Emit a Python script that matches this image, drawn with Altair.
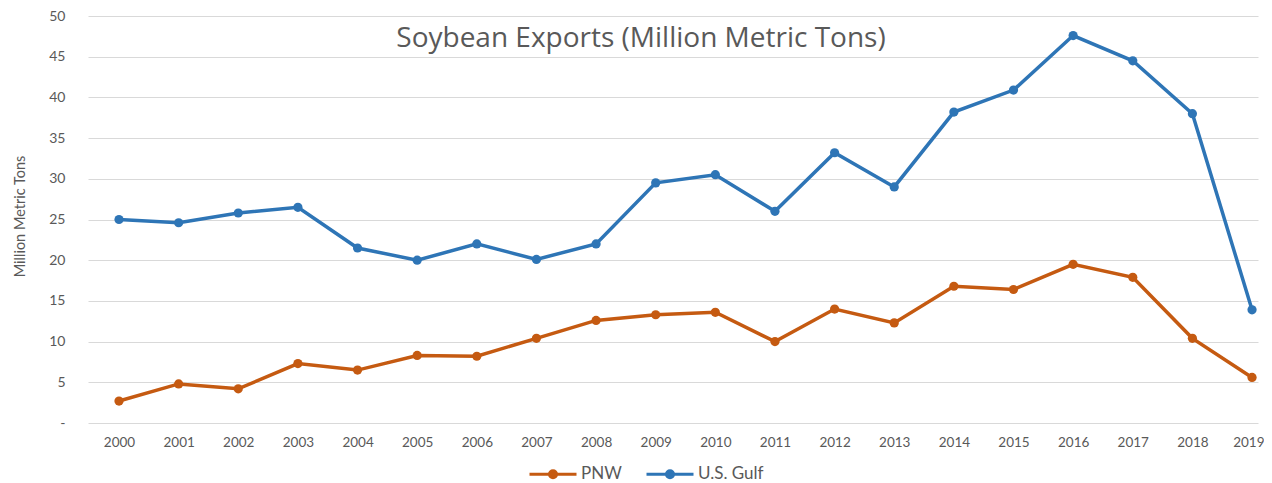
import altair as alt
import pandas as pd

years = list(range(2000, 2020))
gulf = [25.0, 24.6, 25.8, 26.5, 21.5, 20.0, 22.0, 20.1, 22.0, 29.5,
        30.5, 26.0, 33.2, 29.0, 38.2, 40.9, 47.6, 44.5, 38.0, 13.9]
pnw = [2.7, 4.8, 4.2, 7.3, 6.5, 8.3, 8.2, 10.4, 12.6, 13.3,
       13.6, 10.0, 14.0, 12.3, 16.8, 16.4, 19.5, 17.9, 10.4, 5.6]
series = ["PNW", "U.S. Gulf"]
colors = ["#C55A11", "#2E75B6"]
title_text = "Soybean Exports (Million Metric Tons)"
y_title = "Million Metric Tons"

rows = []
for y, v in zip(years, pnw):
    rows.append({"Year": y, "Series": "PNW", "Value": v})
for y, v in zip(years, gulf):
    rows.append({"Year": y, "Series": "U.S. Gulf", "Value": v})
df = pd.DataFrame(rows)

FONT = "Lato"
GRAY = "#595959"

color = alt.Color(
    "Series:N",
    scale=alt.Scale(domain=series, range=colors),
    legend=alt.Legend(
        title=None,
        orient="none",
        legendX=440,
        legendY=433,
        direction="horizontal",
        symbolType="M-1,0L1,0M-0.15,0a0.15,0.15 0 1,0 0.3,0a0.15,0.15 0 1,0 -0.3,0",
        symbolSize=2209,
        symbolStrokeWidth=3,
        labelFont=FONT,
        labelFontSize=17,
        labelColor=GRAY,
        columnPadding=18,
        labelOffset=3,
    ),
)

x = alt.X(
    "Year:Q",
    scale=alt.Scale(domain=[1999.48, 2019.1], nice=False, zero=False),
    axis=alt.Axis(
        values=years, format="d", title=None, grid=False, ticks=False,
        domain=False, labelFont=FONT, labelFontSize=13.5, labelColor=GRAY,
        labelPadding=12, labelFlush=10, labelFlushOffset=12,
    ),
)
y = alt.Y(
    "Value:Q",
    scale=alt.Scale(domain=[0, 50], nice=False),
    axis=alt.Axis(
        values=list(range(0, 51, 5)),
        labelExpr="datum.value == 0 ? '-' : datum.label",
        title=y_title, titleFont=FONT, titleFontSize=14.5, titleFontWeight="normal",
        titleColor=GRAY, titleX=-61, titleY=200,
        ticks=False, domain=False, gridColor="#D9D9D9", gridWidth=1,
        labelFont=FONT, labelFontSize=14, labelColor=GRAY, labelPadding=23,
    ),
)

base = alt.Chart(df)
lines = base.mark_line(strokeWidth=3.5).encode(x=x, y=y, color=color)
points = base.mark_point(filled=True, size=85, opacity=1).encode(x=x, y=y, color=color)

title = alt.Chart(pd.DataFrame({"t": [title_text]})).mark_text(
    font="Open Sans", fontSize=28, color=GRAY, align="center", baseline="middle"
).encode(x=alt.value(553), y=alt.value(23), text="t:N")

chart = alt.layer(lines, points, title).properties(
    width=1170,
    height=407,
    autosize=alt.AutoSizeParams(type="none"),
    padding={"left": 80, "top": 8, "right": 6, "bottom": 60},
).configure_view(stroke=None)

chart.save("out.html", embed_options={"renderer": "svg", "actions": False})
